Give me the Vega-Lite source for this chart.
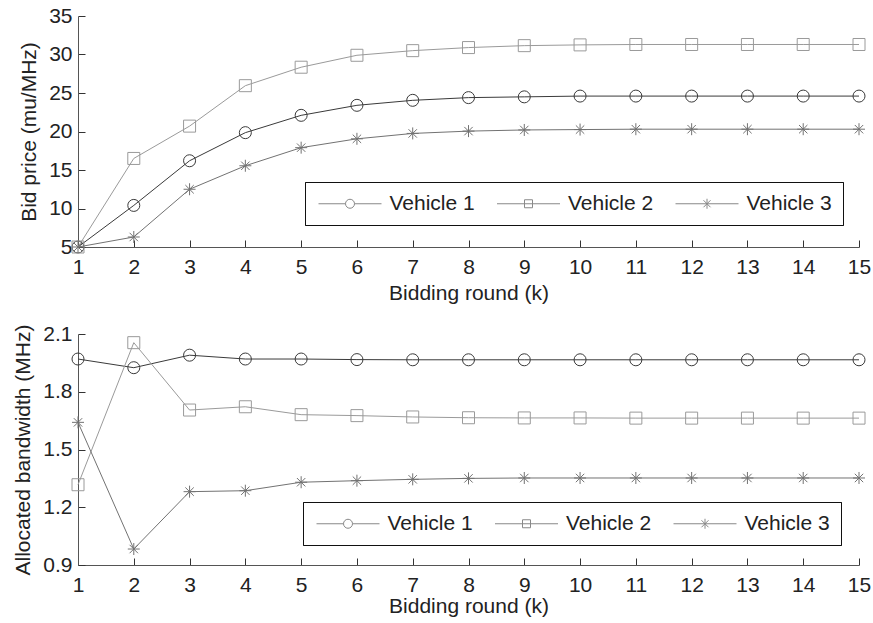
{
  "$schema": "https://vega.github.io/schema/vega-lite/v6.json",
  "padding": {"left": 12, "top": 5, "right": 5, "bottom": 5},
  "background": "white",
  "spacing": 20,
  "datasets": {
    "price": [
      {"round": 1, "vehicle": "Vehicle 1", "value": 5},
      {"round": 2, "vehicle": "Vehicle 1", "value": 10.4},
      {"round": 3, "vehicle": "Vehicle 1", "value": 16.2},
      {"round": 4, "vehicle": "Vehicle 1", "value": 19.85},
      {"round": 5, "vehicle": "Vehicle 1", "value": 22.1},
      {"round": 6, "vehicle": "Vehicle 1", "value": 23.4},
      {"round": 7, "vehicle": "Vehicle 1", "value": 24.05},
      {"round": 8, "vehicle": "Vehicle 1", "value": 24.4},
      {"round": 9, "vehicle": "Vehicle 1", "value": 24.5},
      {"round": 10, "vehicle": "Vehicle 1", "value": 24.6},
      {"round": 11, "vehicle": "Vehicle 1", "value": 24.6},
      {"round": 12, "vehicle": "Vehicle 1", "value": 24.6},
      {"round": 13, "vehicle": "Vehicle 1", "value": 24.6},
      {"round": 14, "vehicle": "Vehicle 1", "value": 24.6},
      {"round": 15, "vehicle": "Vehicle 1", "value": 24.6},
      {"round": 1, "vehicle": "Vehicle 2", "value": 5},
      {"round": 2, "vehicle": "Vehicle 2", "value": 16.5},
      {"round": 3, "vehicle": "Vehicle 2", "value": 20.7},
      {"round": 4, "vehicle": "Vehicle 2", "value": 25.95},
      {"round": 5, "vehicle": "Vehicle 2", "value": 28.35},
      {"round": 6, "vehicle": "Vehicle 2", "value": 29.9},
      {"round": 7, "vehicle": "Vehicle 2", "value": 30.5},
      {"round": 8, "vehicle": "Vehicle 2", "value": 30.9},
      {"round": 9, "vehicle": "Vehicle 2", "value": 31.15},
      {"round": 10, "vehicle": "Vehicle 2", "value": 31.25},
      {"round": 11, "vehicle": "Vehicle 2", "value": 31.3},
      {"round": 12, "vehicle": "Vehicle 2", "value": 31.3},
      {"round": 13, "vehicle": "Vehicle 2", "value": 31.3},
      {"round": 14, "vehicle": "Vehicle 2", "value": 31.3},
      {"round": 15, "vehicle": "Vehicle 2", "value": 31.3},
      {"round": 1, "vehicle": "Vehicle 3", "value": 5},
      {"round": 2, "vehicle": "Vehicle 3", "value": 6.3},
      {"round": 3, "vehicle": "Vehicle 3", "value": 12.5},
      {"round": 4, "vehicle": "Vehicle 3", "value": 15.55},
      {"round": 5, "vehicle": "Vehicle 3", "value": 17.9},
      {"round": 6, "vehicle": "Vehicle 3", "value": 19.05},
      {"round": 7, "vehicle": "Vehicle 3", "value": 19.75},
      {"round": 8, "vehicle": "Vehicle 3", "value": 20.05},
      {"round": 9, "vehicle": "Vehicle 3", "value": 20.2},
      {"round": 10, "vehicle": "Vehicle 3", "value": 20.25},
      {"round": 11, "vehicle": "Vehicle 3", "value": 20.3},
      {"round": 12, "vehicle": "Vehicle 3", "value": 20.3},
      {"round": 13, "vehicle": "Vehicle 3", "value": 20.3},
      {"round": 14, "vehicle": "Vehicle 3", "value": 20.3},
      {"round": 15, "vehicle": "Vehicle 3", "value": 20.3}
    ],
    "bw": [
      {"round": 1, "vehicle": "Vehicle 1", "value": 1.97},
      {"round": 2, "vehicle": "Vehicle 1", "value": 1.925},
      {"round": 3, "vehicle": "Vehicle 1", "value": 1.99},
      {"round": 4, "vehicle": "Vehicle 1", "value": 1.97},
      {"round": 5, "vehicle": "Vehicle 1", "value": 1.97},
      {"round": 6, "vehicle": "Vehicle 1", "value": 1.967},
      {"round": 7, "vehicle": "Vehicle 1", "value": 1.966},
      {"round": 8, "vehicle": "Vehicle 1", "value": 1.966},
      {"round": 9, "vehicle": "Vehicle 1", "value": 1.966},
      {"round": 10, "vehicle": "Vehicle 1", "value": 1.966},
      {"round": 11, "vehicle": "Vehicle 1", "value": 1.966},
      {"round": 12, "vehicle": "Vehicle 1", "value": 1.966},
      {"round": 13, "vehicle": "Vehicle 1", "value": 1.966},
      {"round": 14, "vehicle": "Vehicle 1", "value": 1.966},
      {"round": 15, "vehicle": "Vehicle 1", "value": 1.966},
      {"round": 1, "vehicle": "Vehicle 2", "value": 1.317},
      {"round": 2, "vehicle": "Vehicle 2", "value": 2.055},
      {"round": 3, "vehicle": "Vehicle 2", "value": 1.705},
      {"round": 4, "vehicle": "Vehicle 2", "value": 1.722},
      {"round": 5, "vehicle": "Vehicle 2", "value": 1.681},
      {"round": 6, "vehicle": "Vehicle 2", "value": 1.676},
      {"round": 7, "vehicle": "Vehicle 2", "value": 1.669},
      {"round": 8, "vehicle": "Vehicle 2", "value": 1.665},
      {"round": 9, "vehicle": "Vehicle 2", "value": 1.664},
      {"round": 10, "vehicle": "Vehicle 2", "value": 1.664},
      {"round": 11, "vehicle": "Vehicle 2", "value": 1.663},
      {"round": 12, "vehicle": "Vehicle 2", "value": 1.663},
      {"round": 13, "vehicle": "Vehicle 2", "value": 1.663},
      {"round": 14, "vehicle": "Vehicle 2", "value": 1.663},
      {"round": 15, "vehicle": "Vehicle 2", "value": 1.663},
      {"round": 1, "vehicle": "Vehicle 3", "value": 1.641},
      {"round": 2, "vehicle": "Vehicle 3", "value": 0.983},
      {"round": 3, "vehicle": "Vehicle 3", "value": 1.281},
      {"round": 4, "vehicle": "Vehicle 3", "value": 1.286},
      {"round": 5, "vehicle": "Vehicle 3", "value": 1.33},
      {"round": 6, "vehicle": "Vehicle 3", "value": 1.338},
      {"round": 7, "vehicle": "Vehicle 3", "value": 1.345},
      {"round": 8, "vehicle": "Vehicle 3", "value": 1.35},
      {"round": 9, "vehicle": "Vehicle 3", "value": 1.352},
      {"round": 10, "vehicle": "Vehicle 3", "value": 1.352},
      {"round": 11, "vehicle": "Vehicle 3", "value": 1.352},
      {"round": 12, "vehicle": "Vehicle 3", "value": 1.352},
      {"round": 13, "vehicle": "Vehicle 3", "value": 1.352},
      {"round": 14, "vehicle": "Vehicle 3", "value": 1.352},
      {"round": 15, "vehicle": "Vehicle 3", "value": 1.352}
    ]
  },
  "config": {
    "view": {"stroke": null},
    "font": "Liberation Sans",
    "axis": {
      "labelFont": "Liberation Sans",
      "titleFont": "Liberation Sans",
      "labelFontSize": 21,
      "titleFontSize": 21,
      "titleFontWeight": "normal",
      "labelColor": "#222",
      "titleColor": "#222",
      "domainColor": "#555",
      "tickColor": "#333",
      "tickSize": -7,
      "grid": false,
      "labelFlush": false,
      "labelOverlap": false
    },
    "axisX": {"labelPadding": 16, "titlePadding": 5},
    "axisY": {"labelPadding": 13, "titlePadding": 9},
    "legend": {
      "orient": "none",
      "direction": "horizontal",
      "columns": 3,
      "fillColor": "white",
      "strokeColor": "#111",
      "padding": 11,
      "columnPadding": 19.5,
      "symbolSize": 100,
      "symbolOffset": 23.5,
      "labelOffset": 29,
      "labelFont": "Liberation Sans",
      "labelFontSize": 21,
      "labelColor": "#222",
      "symbolStrokeWidth": 1
    }
  },
  "vconcat": [
    {
      "width": 781,
      "height": 231,
      "data": {"name": "price"},
      "encoding": {
        "x": {"field": "round", "type": "quantitative", "scale": {"domain": [1, 15], "nice": false}, "axis": {"values": [1,2,3,4,5,6,7,8,9,10,11,12,13,14,15], "title": "Bidding round (k)"}},
        "y": {"field": "value", "type": "quantitative", "scale": {"domain": [5, 35], "nice": false, "zero": false}, "axis": {"values": [5,10,15,20,25,30,35], "title": "Bid price (mu/MHz)"}}
      },
      "layer": [
        {"mark": {"type": "line", "strokeWidth": 1},
         "encoding": {"color": {"field": "vehicle", "type": "nominal", "scale": {"domain": ["Vehicle 1","Vehicle 2","Vehicle 3"], "range": ["#3a3a3a","#9a9a9a","#727272"]}}}},
        {
          "mark": {"type": "point", "filled": false, "size": 144, "strokeWidth": 1, "opacity": 1},
          "encoding": {
            "color": {"field": "vehicle", "type": "nominal"},
            "shape": {"field": "vehicle", "type": "nominal", "legend": null, "scale": {"domain": ["Vehicle 1","Vehicle 2","Vehicle 3"], "range": ["circle","square","M0,-1L0,1M-1,0L1,0M-0.7,-0.7L0.7,0.7M-0.7,0.7L0.7,-0.7"]}}
          }
        },
        {
          "transform": [{"filter": "datum.round > 100"}],
          "mark": {"type": "point", "filled": false, "size": 100, "strokeWidth": 1, "opacity": 1},
          "encoding": {
            "color": {"field": "vehicle", "type": "nominal", "legend": {"title": null, "legendX": 227, "legendY": 166}},
            "shape": {"field": "vehicle", "type": "nominal", "legend": {"title": null, "legendX": 227, "legendY": 166},
              "scale": {"domain": ["Vehicle 1","Vehicle 2","Vehicle 3"], "range": ["M-6.3,0L-0.9,0M0.9,0L6.3,0M-0.9,0A0.9,0.9 0 1,0 0.9,0A0.9,0.9 0 1,0 -0.9,0", "M-6.3,0L6.3,0M-0.8,-0.8L0.8,-0.8L0.8,0.8L-0.8,0.8Z", "M-6.3,0L6.3,0M0,-1L0,1M-0.7,-0.7L0.7,0.7M-0.7,0.7L0.7,-0.7"]}}
          }
        }
      ],
      "resolve": {"scale": {"shape": "independent"}}
    },
    {
      "width": 781,
      "height": 231,
      "data": {"name": "bw"},
      "encoding": {
        "x": {"field": "round", "type": "quantitative", "scale": {"domain": [1, 15], "nice": false}, "axis": {"values": [1,2,3,4,5,6,7,8,9,10,11,12,13,14,15], "title": "Bidding round (k)", "titlePadding": 0}},
        "y": {"field": "value", "type": "quantitative", "scale": {"domain": [0.9, 2.1], "nice": false, "zero": false}, "axis": {"values": [0.9,1.2,1.5,1.8,2.1], "format": ".1f", "title": "Allocated bandwidth (MHz)"}}
      },
      "layer": [
        {"mark": {"type": "line", "strokeWidth": 1},
         "encoding": {"color": {"field": "vehicle", "type": "nominal", "scale": {"domain": ["Vehicle 1","Vehicle 2","Vehicle 3"], "range": ["#3a3a3a","#9a9a9a","#727272"]}}}},
        {
          "mark": {"type": "point", "filled": false, "size": 144, "strokeWidth": 1, "opacity": 1},
          "encoding": {
            "color": {"field": "vehicle", "type": "nominal"},
            "shape": {"field": "vehicle", "type": "nominal", "legend": null, "scale": {"domain": ["Vehicle 1","Vehicle 2","Vehicle 3"], "range": ["circle","square","M0,-1L0,1M-1,0L1,0M-0.7,-0.7L0.7,0.7M-0.7,0.7L0.7,-0.7"]}}
          }
        },
        {
          "transform": [{"filter": "datum.round > 100"}],
          "mark": {"type": "point", "filled": false, "size": 100, "strokeWidth": 1, "opacity": 1},
          "encoding": {
            "color": {"field": "vehicle", "type": "nominal", "legend": {"title": null, "legendX": 225, "legendY": 168}},
            "shape": {"field": "vehicle", "type": "nominal", "legend": {"title": null, "legendX": 225, "legendY": 168},
              "scale": {"domain": ["Vehicle 1","Vehicle 2","Vehicle 3"], "range": ["M-6.3,0L-0.9,0M0.9,0L6.3,0M-0.9,0A0.9,0.9 0 1,0 0.9,0A0.9,0.9 0 1,0 -0.9,0", "M-6.3,0L6.3,0M-0.8,-0.8L0.8,-0.8L0.8,0.8L-0.8,0.8Z", "M-6.3,0L6.3,0M0,-1L0,1M-0.7,-0.7L0.7,0.7M-0.7,0.7L0.7,-0.7"]}}
          }
        }
      ],
      "resolve": {"scale": {"shape": "independent"}}
    }
  ],
  "resolve": {"scale": {"color": "independent", "shape": "independent"}, "legend": {"shape": "independent", "color": "independent"}}
}
